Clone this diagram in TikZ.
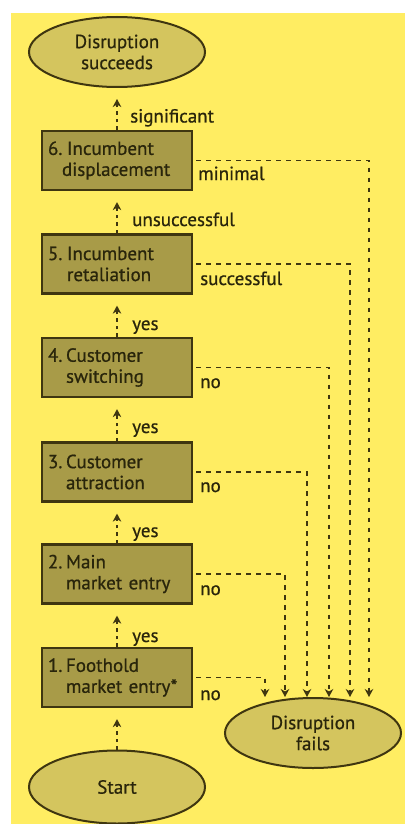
\documentclass[tikz,border=0pt]{standalone}
\usepackage{fontspec}
\setmainfont{PT Sans}[FakeBold=0.7]
\usetikzlibrary{shapes.geometric,arrows.meta}
\definecolor{bgyellow}{HTML}{FFED62}
\definecolor{boxfill}{HTML}{A89B48}
\definecolor{ellfill}{HTML}{D4C55E}
\definecolor{edge}{HTML}{3F3610}
\definecolor{inkdark}{HTML}{29250B}
\newcommand{\numlbl}[2]{\makebox[#1][l]{#2}}
\begin{document}
\begin{tikzpicture}[x=1pt,y=-1pt,
  every node/.style={font=\fontsize{19}{21}\selectfont, text=inkdark},
  stage/.style={rectangle, draw=edge, line width=2.2pt, fill=boxfill,
    minimum width=150pt, minimum height=59pt, text width=138pt,
    inner xsep=6pt, inner ysep=0pt, align=left},
  terminal/.style={ellipse, draw=edge, line width=2pt, fill=ellfill,
    minimum width=176pt, minimum height=70pt, inner sep=0pt, align=center},
  lbl/.style={inner sep=0pt, anchor=base west},
  flow/.style={draw=edge, line width=1.9pt, dash pattern=on 3.5pt off 4pt,
    -{Stealth[length=8pt,width=8.5pt,inset=2.5pt]}, shorten >=11pt},
  fail/.style={draw=edge, line width=1.9pt, dash pattern=on 4.5pt off 5.5pt,
    -{Stealth[length=8pt,width=8.5pt,inset=2.5pt]}, shorten <=3pt}]

% page and panel
\useasboundingbox (0,0) rectangle (405,824);
\fill[white] (0,0) rectangle (405,824);
\fill[bgyellow] (11,13) rectangle (405,824);

% terminals
\node[terminal] (succ) at (117,52) {Disruption\\succeeds};
\node[terminal, minimum height=73pt] (start) at (117,787) {Start};
\node[terminal] (fails) at (313,733) {Disruption\\fails};

% stages
\node[stage] (s6) at (117,160.5) {\numlbl{19pt}{6.}Incumbent\\\hspace*{14pt}displacement};
\node[stage] (s5) at (117,264)   {\numlbl{19pt}{5.}Incumbent\\\hspace*{19pt}retaliation};
\node[stage] (s4) at (117,367.5) {\numlbl{18pt}{4.}Customer\\\hspace*{18pt}switching};
\node[stage] (s3) at (117,472)   {\numlbl{18pt}{3.}Customer\\\hspace*{18pt}attraction};
\node[stage] (s2) at (117,574)   {\numlbl{18pt}{2.}Main\\\hspace*{18pt}market entry};
\node[stage] (s1) at (117,677.5) {\numlbl{18pt}{1.}Foothold\\\hspace*{18pt}market entry*};

% upward path
\draw[flow] (start.north) -- (s1.south);
\draw[flow] (s1.north) -- (s2.south);
\draw[flow] (s2.north) -- (s3.south);
\draw[flow] (s3.north) -- (s4.south);
\draw[flow] (s4.north) -- (s5.south);
\draw[flow] (s5.north) -- (s6.south);
\draw[flow] (s6.north) -- (succ.south);

\node[lbl] (y1) at (132,642) {yes};
\node[lbl] (y2) at (132,537) {yes};
\node[lbl] (y3) at (132,433) {yes};
\node[lbl] (y4) at (132,330) {yes};
\node[lbl] (y5) at (132,226) {unsuccessful};
\node[lbl] (y6) at (130,122.5) {significant};

% failure branches
\coordinate (f1) at (265,697);
\coordinate (f2) at (285,697);
\coordinate (f3) at (307,697);
\coordinate (f4) at (329,697);
\coordinate (f5) at (350,697);
\coordinate (f6) at (369,697);
\draw[fail] (s1.east) -| (f1);
\draw[fail] (s2.east) -| (f2);
\draw[fail] (s3.east) -| (f3);
\draw[fail] (s4.east) -| (f4);
\draw[fail] (s5.east) -| (f5);
\draw[fail] (s6.east) -| (f6);

\node[lbl] (n1) at (200,700) {no};
\node[lbl] (n2) at (200,595) {no};
\node[lbl] (n3) at (200,492) {no};
\node[lbl] (n4) at (200,388) {no};
\node[lbl] (n5) at (200,285) {successful};
\node[lbl] (n6) at (198,180) {minimal};
\end{tikzpicture}
\end{document}
